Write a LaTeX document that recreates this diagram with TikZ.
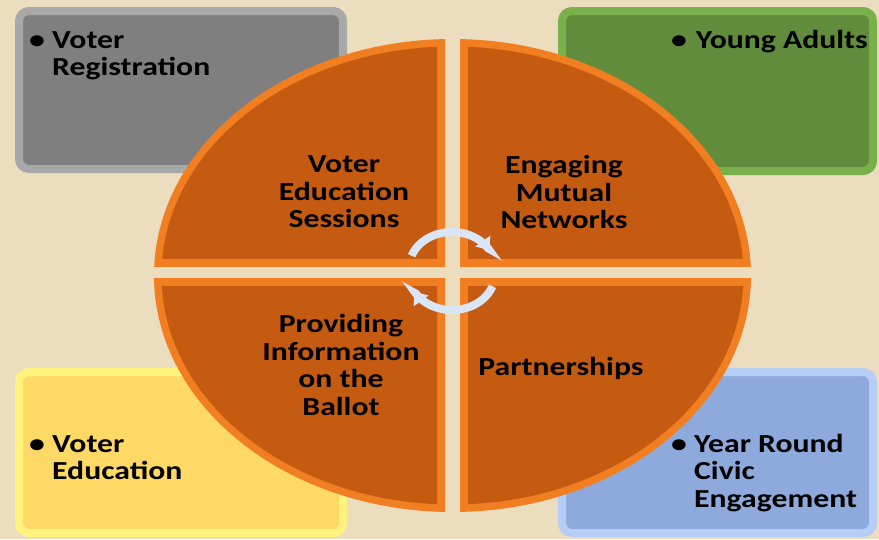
\documentclass[tikz,border=0pt]{standalone}
\usepackage{fontspec}
\setmainfont{Carlito}[FakeStretch=1.22]
\usetikzlibrary{arrows.meta}
\definecolor{parch}{RGB}{236,221,190}
\definecolor{grayrim}{RGB}{168,168,168}
\definecolor{graybody}{RGB}{127,127,127}
\definecolor{greenrim}{RGB}{122,176,76}
\definecolor{greenbody}{RGB}{96,140,60}
\definecolor{yellowrim}{RGB}{255,242,125}
\definecolor{yellowbody}{RGB}{255,217,102}
\definecolor{bluerim}{RGB}{182,206,245}
\definecolor{bluebody}{RGB}{142,170,220}
\definecolor{orangerim}{RGB}{242,126,34}
\definecolor{orangebody}{RGB}{197,90,17}
\definecolor{cyclecol}{RGB}{218,229,246}
\tikzset{
  cornerbox/.style={line width=8pt, rounded corners=10pt, inner sep=0pt},
  quadtext/.style={align=center, inner sep=0pt, text=black},
  bullettext/.style={inner sep=0pt, anchor=base west, text=black},
  cyclearrow/.style={line width=8pt, color=cyclecol, -{Triangle[width=18pt,length=11pt]}},
}
\newcommand{\bul}{\makebox[23pt][l]{\textbullet}}
\begin{document}
\begin{tikzpicture}[x=1pt,y=-1pt,font=\bfseries\fontsize{26}{27.5}\selectfont]
\useasboundingbox (0,0) rectangle (879,539);
\fill[parch] (0,0) rectangle (879,539);

% corner boxes
\node[cornerbox, draw=grayrim, fill=graybody, minimum width=324pt, minimum height=158pt] (reg) at (181,90) {};
\node[cornerbox, draw=greenrim, fill=greenbody, minimum width=311pt, minimum height=160pt] (young) at (717.5,91) {};
\node[cornerbox, draw=yellowrim, fill=yellowbody, minimum width=324pt, minimum height=161pt] (edu) at (181,452.5) {};
\node[cornerbox, draw=bluerim, fill=bluebody, minimum width=311pt, minimum height=161pt] (civic) at (717.5,452.5) {};

\node[bullettext] (regt) at (29,48) {\begin{tabular}[t]{@{}l@{}l@{}}\bul & Voter\\ & Registration\end{tabular}};
\node[inner sep=0pt, anchor=base east, text=black] (youngt) at (868,48) {\textbullet\hspace{9pt}Young Adults};
\node[bullettext] (edut) at (29,452) {\begin{tabular}[t]{@{}l@{}l@{}}\bul & Voter\\ & Education\end{tabular}};
\node[bullettext] (civict) at (671,452) {\begin{tabular}[t]{@{}l@{}l@{}}\bul & Year Round\\ & Civic\\ & Engagement\end{tabular}};

% quadrants of the ellipse
\coordinate (c) at (452.5,275.5);
\begin{scope}
  \clip (0,0) rectangle (445,266);
  \fill[orangerim] (c) ellipse [x radius=298.5pt, y radius=236.5pt];
\end{scope}
\begin{scope}
  \clip (0,0) rectangle (437,258);
  \fill[orangebody] (c) ellipse [x radius=291pt, y radius=229pt];
\end{scope}
\begin{scope}
  \clip (460,0) rectangle (879,266);
  \fill[orangerim] (c) ellipse [x radius=298.5pt, y radius=236.5pt];
\end{scope}
\begin{scope}
  \clip (468,0) rectangle (879,258);
  \fill[orangebody] (c) ellipse [x radius=291pt, y radius=229pt];
\end{scope}
\begin{scope}
  \clip (0,278) rectangle (445,539);
  \fill[orangerim] (c) ellipse [x radius=298.5pt, y radius=236.5pt];
\end{scope}
\begin{scope}
  \clip (0,286) rectangle (437,539);
  \fill[orangebody] (c) ellipse [x radius=291pt, y radius=229pt];
\end{scope}
\begin{scope}
  \clip (460,278) rectangle (879,539);
  \fill[orangerim] (c) ellipse [x radius=298.5pt, y radius=236.5pt];
\end{scope}
\begin{scope}
  \clip (468,286) rectangle (879,539);
  \fill[orangebody] (c) ellipse [x radius=291pt, y radius=229pt];
\end{scope}

% quadrant texts
\node[quadtext] (q1) at (344,192) {Voter\\Education\\Sessions};
\node[quadtext] (q2) at (564,192) {Engaging\\Mutual\\Networks};
\node[quadtext] (q3) at (341,365) {Providing\\Information\\on the\\Ballot};
\node[inner sep=0pt, anchor=base, text=black] (q4) at (561,375) {Partnerships};

% cycle arrows
\draw[cyclearrow] plot[domain=160:30, samples=40, smooth] ({452+43*cos(\x)},{268-36*sin(\x)});
\draw[cyclearrow] plot[domain=-20:-150, samples=40, smooth] ({452+43*cos(\x)},{274-36*sin(\x)});
\end{tikzpicture}
\end{document}
